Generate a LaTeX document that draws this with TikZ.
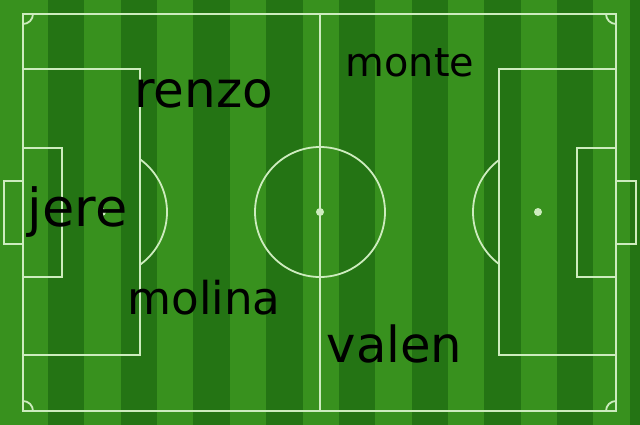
\documentclass[tikz,border=0pt]{standalone}
\usepackage{fontspec}
\setmainfont{DejaVu Sans}
\usepackage{tikz}
\usetikzlibrary{positioning,calc}
\definecolor{grasslight}{RGB}{56,145,30}
\definecolor{grassdark}{RGB}{36,116,20}
\definecolor{chalk}{RGB}{205,236,190}

\begin{document}
\begin{tikzpicture}[x=1pt,y=-1pt,
		chalkline/.style={draw=chalk, line width=1.8pt},
		player/.style={anchor=base, inner sep=0pt, text=black}]
	\useasboundingbox (0,0) rectangle (640,425);
	% grass
	\fill[grasslight] (0,0) rectangle (640,425);
	\foreach \k in {0,...,8}
		\fill[grassdark] ({48+72.7*\k},0) rectangle ({84.4+72.7*\k},425);
	% pitch
	\draw[chalkline] (23,14) rectangle (616,411);
	\draw[chalkline] (320,14) -- (320,411);
	\draw[chalkline] (320,212) circle (65);
	\fill[chalk] (320,212) circle (4);
	% left side
	\draw[chalkline] (23,69) rectangle (140,355);
	\draw[chalkline] (23,148) rectangle (62,277);
	\draw[chalkline] (4,181) rectangle (23,244);
	\fill[chalk] (102,212) circle (4);
	\begin{scope}
		\clip (140,0) rectangle (220,425);
		\draw[chalkline] (102,212) circle (65);
	\end{scope}
	% right side
	\draw[chalkline] (499,69) rectangle (616,355);
	\draw[chalkline] (577,148) rectangle (616,277);
	\draw[chalkline] (616,181) rectangle (636,244);
	\fill[chalk] (538,212) circle (4);
	\begin{scope}
		\clip (420,0) rectangle (499,425);
		\draw[chalkline] (538,212) circle (65);
	\end{scope}
	% corners
	\begin{scope}
		\clip (23,14) rectangle (616,411);
		\foreach \cx/\cy in {23/14,616/14,23/411,616/411}
			\draw[chalkline] (\cx,\cy) circle (10);
	\end{scope}
	% names
	\node[player, font=\fontsize{50}{60}\selectfont] (renzo) at (203.5,108) {renzo};
	\node[player, font=\fontsize{52.5}{63}\selectfont] (jere) at (77.5,226) {jere};
	\node[player, font=\fontsize{39.8}{48}\selectfont] (monte) at (410,77) {monte};
	\node[player, font=\fontsize{45.2}{54}\selectfont] (molina) at (204,314) {molina};
	\node[player, font=\fontsize{49.7}{60}\selectfont] (valen) at (394.5,362) {valen};
\end{tikzpicture}
\end{document}
